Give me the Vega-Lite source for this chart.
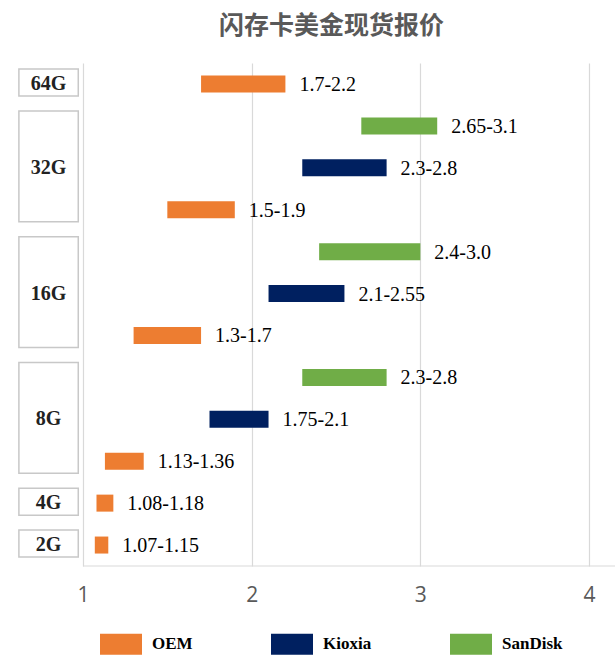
{
  "$schema": "https://vega.github.io/schema/vega-lite/v6.json",
  "width": 615,
  "height": 503,
  "autosize": {"type": "none"},
  "padding": {"top": 63, "left": 0, "right": 0, "bottom": 105},
  "title": {
    "text": "闪存卡美金现货报价",
    "font": "Noto Sans CJK SC",
    "fontSize": 25,
    "fontWeight": "bold",
    "color": "#595959",
    "anchor": "middle",
    "dx": 24,
    "offset": 24
  },
  "datasets": {
    "prices": [
      {"size": "64G", "brand": "OEM", "row": 0, "low": 1.7, "high": 2.2, "label": "1.7-2.2"},
      {"size": "32G", "brand": "SanDisk", "row": 1, "low": 2.65, "high": 3.1, "label": "2.65-3.1"},
      {"size": "32G", "brand": "Kioxia", "row": 2, "low": 2.3, "high": 2.8, "label": "2.3-2.8"},
      {"size": "32G", "brand": "OEM", "row": 3, "low": 1.5, "high": 1.9, "label": "1.5-1.9"},
      {"size": "16G", "brand": "SanDisk", "row": 4, "low": 2.4, "high": 3.0, "label": "2.4-3.0"},
      {"size": "16G", "brand": "Kioxia", "row": 5, "low": 2.1, "high": 2.55, "label": "2.1-2.55"},
      {"size": "16G", "brand": "OEM", "row": 6, "low": 1.3, "high": 1.7, "label": "1.3-1.7"},
      {"size": "8G", "brand": "SanDisk", "row": 7, "low": 2.3, "high": 2.8, "label": "2.3-2.8"},
      {"size": "8G", "brand": "Kioxia", "row": 8, "low": 1.75, "high": 2.1, "label": "1.75-2.1"},
      {"size": "8G", "brand": "OEM", "row": 9, "low": 1.13, "high": 1.36, "label": "1.13-1.36"},
      {"size": "4G", "brand": "OEM", "row": 10, "low": 1.08, "high": 1.18, "label": "1.08-1.18"},
      {"size": "2G", "brand": "OEM", "row": 11, "low": 1.07, "high": 1.15, "label": "1.07-1.15"}
    ],
    "groups": [
      {"size": "64G", "first": 0, "last": 0, "mid": 0},
      {"size": "32G", "first": 1, "last": 3, "mid": 2},
      {"size": "16G", "first": 4, "last": 6, "mid": 5},
      {"size": "8G", "first": 7, "last": 9, "mid": 8},
      {"size": "4G", "first": 10, "last": 10, "mid": 10},
      {"size": "2G", "first": 11, "last": 11, "mid": 11}
    ]
  },
  "layer": [
    {
      "data": {"name": "prices"},
      "mark": {"type": "bar", "size": 17},
      "encoding": {
        "x": {
          "field": "low",
          "type": "quantitative",
          "title": null,
          "scale": {"domain": [0.508, 4.154], "nice": false, "zero": false, "padding": 0},
          "axis": {
            "values": [1, 2, 3, 4],
            "format": "d",
            "grid": true,
            "gridColor": "#d9d9d9",
            "gridWidth": 1.2,
            "domain": false,
            "ticks": false,
            "labelFont": "Open Sans",
            "labelFontSize": 21,
            "labelColor": "#595959",
            "labelPadding": 18
          }
        },
        "x2": {"field": "high"},
        "y": {
          "field": "row",
          "type": "quantitative",
          "scale": {"domain": [-0.5, 11.5], "reverse": true, "nice": false, "zero": false, "padding": 0},
          "axis": null
        },
        "color": {
          "field": "brand",
          "type": "nominal",
          "scale": {"domain": ["OEM", "Kioxia", "SanDisk"], "range": ["#ED7D31", "#002060", "#70AD47"]},
          "legend": {
            "title": null,
            "orient": "none",
            "legendX": 100,
            "legendY": 560,
            "direction": "horizontal",
            "symbolType": "M-1,-0.5H1V0.5H-1Z",
            "symbolSize": 1764,
            "symbolStrokeWidth": 0,
            "symbolOpacity": 1,
            "labelFont": "Liberation Serif",
            "labelFontWeight": "bold",
            "labelFontSize": 17,
            "labelColor": "#000000",
            "labelOffset": 10,
            "columnPadding": 78
          }
        }
      }
    },
    {
      "data": {"name": "groups"},
      "mark": {"type": "rect", "fill": "white", "stroke": "#c8c8c8", "strokeWidth": 1.5, "yOffset": -15, "y2Offset": 12},
      "encoding": {
        "x": {"datum": 0.62, "type": "quantitative", "title": null},
        "x2": {"datum": 0.972},
        "y": {"field": "first", "type": "quantitative"},
        "y2": {"field": "last"}
      }
    },
    {
      "data": {"name": "groups"},
      "mark": {"type": "text", "font": "Liberation Serif", "fontWeight": "bold", "fontSize": 20, "color": "#222222", "baseline": "middle"},
      "encoding": {
        "x": {"datum": 0.795, "type": "quantitative", "title": null},
        "y": {"field": "mid", "type": "quantitative"},
        "text": {"field": "size"}
      }
    },
    {
      "data": {"values": [{}]},
      "mark": {"type": "rule", "color": "#d9d9d9", "strokeWidth": 1.2},
      "encoding": {
        "x": {"datum": 1, "type": "quantitative", "title": null},
        "x2": {"datum": 4.154},
        "y": {"datum": 11.5, "type": "quantitative"}
      }
    },
    {
      "data": {"name": "prices"},
      "mark": {"type": "text", "align": "left", "baseline": "middle", "dx": 14, "dy": 1, "font": "Liberation Serif", "fontSize": 20, "color": "#000000"},
      "encoding": {
        "x": {"field": "high", "type": "quantitative", "title": null},
        "y": {"field": "row", "type": "quantitative"},
        "text": {"field": "label"}
      }
    }
  ],
  "resolve": {"scale": {"x": "shared", "y": "shared"}},
  "config": {
    "view": {"stroke": null}
  }
}
